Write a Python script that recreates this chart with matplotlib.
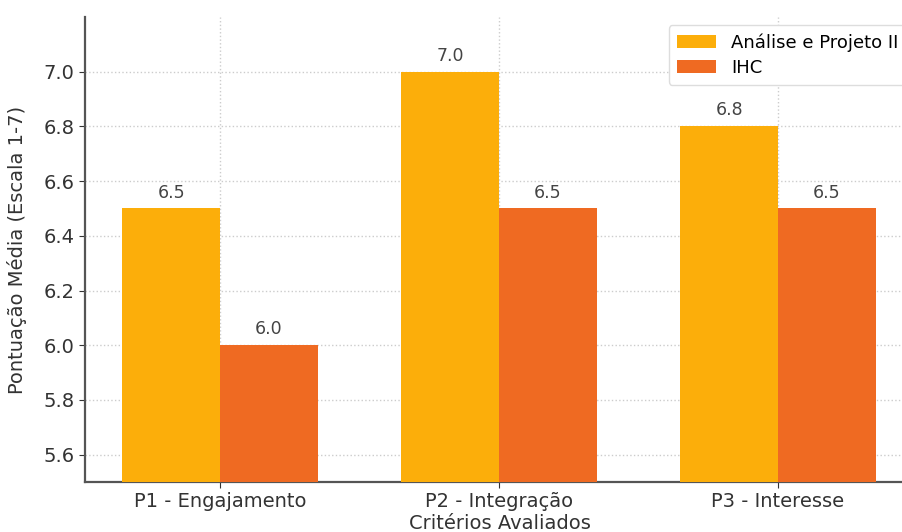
import numpy as np
import matplotlib
matplotlib.use("Agg")
import matplotlib.pyplot as plt

# --- data ---
criterios = ["P1 - Engajamento", "P2 - Integração", "P3 - Interesse"]
analise_projeto = [6.5, 7.0, 6.8]
ihc = [6.0, 6.5, 6.5]
series_names = ["Análise e Projeto II", "IHC"]

YELLOW = "#FCAE0A"
ORANGE = "#EF6A22"
W = 0.35

fig = plt.figure(figsize=(9.02, 5.32), dpi=100)
ax = fig.add_axes([0.094, 0.094, 0.92, 0.874])

x = np.arange(len(criterios))
b1 = ax.bar(x - W/2, analise_projeto, W, color=YELLOW, label=series_names[0], zorder=3)
b2 = ax.bar(x + W/2, ihc, W, color=ORANGE, label=series_names[1], zorder=3)

for bars in (b1, b2):
    for r in bars:
        ax.annotate(f"{r.get_height():.1f}", (r.get_x() + r.get_width()/2, r.get_height()),
                    xytext=(0, 5), textcoords="offset points", ha="center", va="bottom",
                    fontsize=12.5, color="#444444")

ax.set_ylim(5.5, 7.2)
ax.set_xlim(-0.485, 2.49)
ax.set_yticks([5.6, 5.8, 6.0, 6.2, 6.4, 6.6, 6.8, 7.0])
ax.set_xticks(x)
ax.set_xticklabels(criterios)
ax.tick_params(labelsize=14, colors="#333333", length=4)
ax.grid(True, linestyle=":", color="#cccccc", linewidth=1.0, zorder=0)
ax.set_axisbelow(True)
for s in ("top", "right"):
    ax.spines[s].set_visible(False)
for s in ("left", "bottom"):
    ax.spines[s].set_color("#555555")
    ax.spines[s].set_linewidth(1.6)

ax.set_ylabel("Pontuação Média (Escala 1-7)", fontsize=14, color="#333333", labelpad=12)
ax.set_xlabel("Critérios Avaliados", fontsize=14, color="#333333", labelpad=2)

ax.legend(loc="upper right", bbox_to_anchor=(0.99, 0.983), borderaxespad=0,
          fontsize=13, framealpha=1.0, edgecolor="#dddddd", handlelength=2.2,
          borderpad=0.45, labelspacing=0.4)

fig.savefig("out.png", dpi=100)
